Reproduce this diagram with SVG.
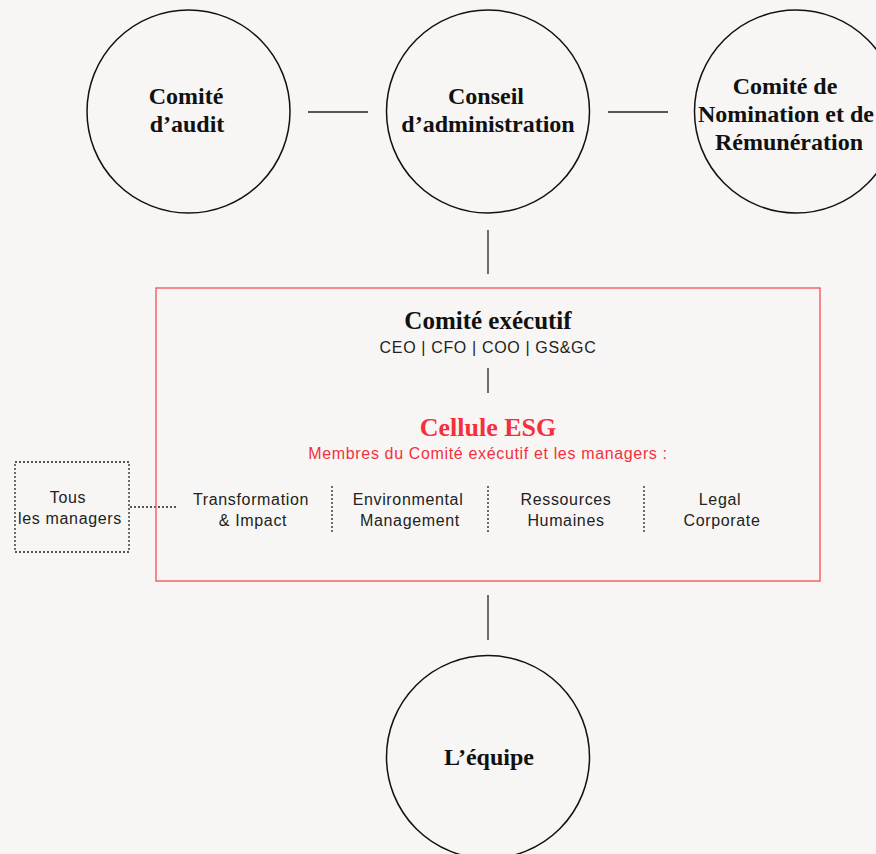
<svg xmlns="http://www.w3.org/2000/svg" width="876" height="854" viewBox="0 0 876 854">
<style>
.circ{fill:none;stroke:#111;stroke-width:1.5}
.ttl{font-family:"Liberation Serif","DejaVu Serif",serif;font-weight:bold;font-size:24px;fill:#111;text-anchor:middle}
.sans{font-family:"Liberation Sans",Arial,sans-serif;font-size:16px;letter-spacing:0.65px;fill:#222;text-anchor:middle}
.red{fill:#f5303c}
.ln{stroke:#222;stroke-width:1.3;fill:none}
.dot{stroke:#222;stroke-width:1.3;fill:none;stroke-dasharray:2 2}
</style>
<rect width="876" height="854" fill="#f7f6f4"/>
<g id="connectors">
<line class="ln" x1="308" y1="112" x2="368" y2="112"/>
<line class="ln" x1="608" y1="112" x2="668" y2="112"/>
<line class="ln" x1="488" y1="230" x2="488" y2="274"/>
<line class="ln" x1="488" y1="368" x2="488" y2="393"/>
<line class="ln" x1="488" y1="595" x2="488" y2="640"/>
<line class="dot" x1="130" y1="507" x2="176" y2="507"/>
<line class="dot" x1="332" y1="486" x2="332" y2="533"/>
<line class="dot" x1="488" y1="486" x2="488" y2="533"/>
<line class="dot" x1="644" y1="486" x2="644" y2="533"/>
</g>
<g id="audit">
<circle class="circ" cx="188.5" cy="111.5" r="101.5"/>
<text class="ttl" x="186" y="104">Comité</text>
<text class="ttl" x="187" y="132">d’audit</text>
</g>
<g id="conseil">
<circle class="circ" cx="488" cy="111.5" r="101.5"/>
<text class="ttl" x="486" y="104">Conseil</text>
<text class="ttl" x="488" y="132">d’administration</text>
</g>
<g id="nomination">
<circle class="circ" cx="796" cy="111.5" r="101.5"/>
<text class="ttl" x="785" y="94">Comité de</text>
<text class="ttl" x="786" y="122">Nomination et de</text>
<text class="ttl" x="789" y="150">Rémunération</text>
</g>
<g id="executif">
<rect x="156" y="288" width="664" height="293" fill="none" stroke="#f5636b" stroke-width="1.5"/>
<text class="ttl" x="488" y="329" style="font-size:25px">Comité exécutif</text>
<text class="sans" x="488" y="353">CEO | CFO | COO | GS&amp;GC</text>
</g>
<g id="cellule">
<text class="ttl red" x="488" y="436" style="font-size:26px">Cellule ESG</text>
<text class="sans red" x="488" y="459">Membres du Comité exécutif et les managers :</text>
</g>
<g id="transformation">
<text class="sans" x="251" y="505">Transformation</text>
<text class="sans" x="253" y="526">&amp; Impact</text>
</g>
<g id="environmental">
<text class="sans" x="408" y="505">Environmental</text>
<text class="sans" x="410" y="526">Management</text>
</g>
<g id="rh">
<text class="sans" x="566" y="505">Ressources</text>
<text class="sans" x="566" y="526">Humaines</text>
</g>
<g id="legal">
<text class="sans" x="720" y="505">Legal</text>
<text class="sans" x="722" y="526">Corporate</text>
</g>
<g id="managers">
<rect class="dot" x="15" y="462" width="114" height="90"/>
<text class="sans" x="68" y="503">Tous</text>
<text class="sans" x="70" y="524">les managers</text>
</g>
<g id="equipe">
<circle class="circ" cx="488" cy="757" r="101.5"/>
<text class="ttl" x="489" y="765">L’équipe</text>
</g>
</svg>
